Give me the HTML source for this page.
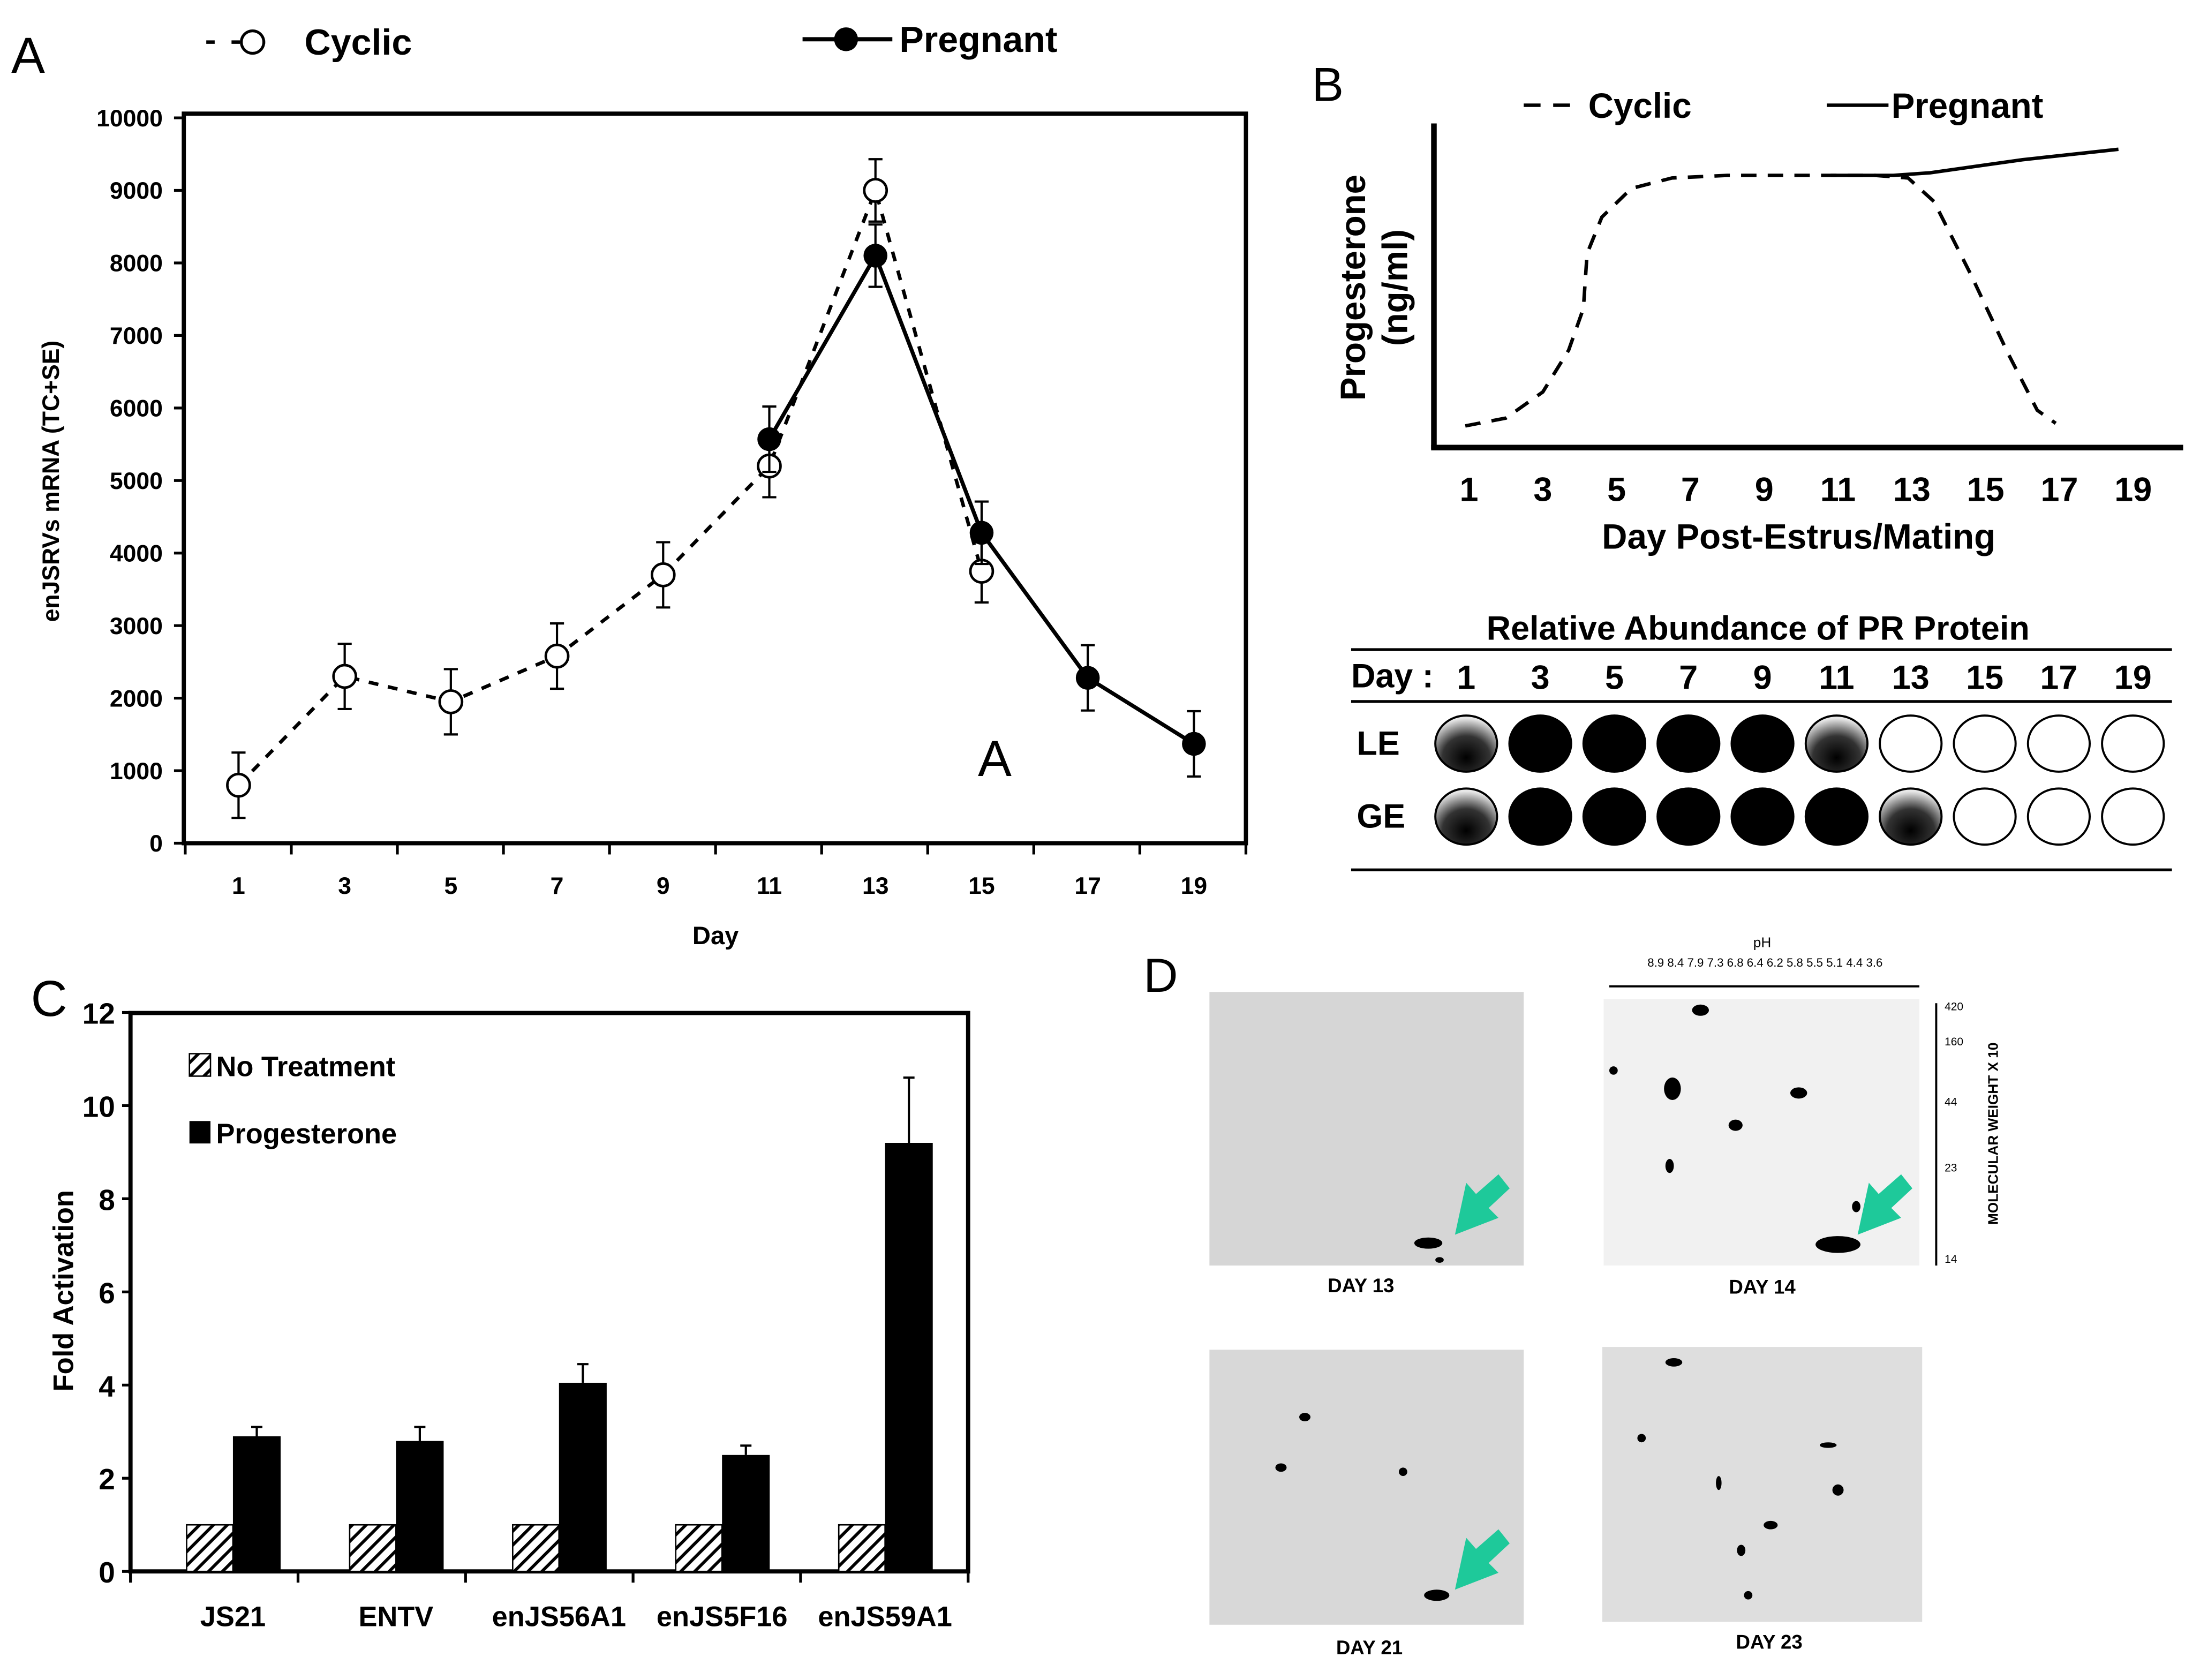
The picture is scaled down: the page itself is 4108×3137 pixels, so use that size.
<!DOCTYPE html>
<html><head><meta charset="utf-8">
<style>
html,body{margin:0;padding:0;background:#fff;}
svg{display:block;}
text{font-family:"Liberation Sans",Arial,sans-serif;}
.b{font-weight:bold;}
</style></head>
<body>
<svg id="fig" width="4108" height="3137" viewBox="0 0 1568 1197.4" xmlns="http://www.w3.org/2000/svg">
<defs>
<pattern id="hatch" patternUnits="userSpaceOnUse" width="7" height="7" patternTransform="rotate(45)">
<rect width="7" height="7" fill="#fff"/><rect width="2.2" height="7" fill="#000"/>
</pattern>
<radialGradient id="grad" cx="0.5" cy="0.75" r="0.7">
<stop offset="0" stop-color="#000"/><stop offset="0.55" stop-color="#333"/><stop offset="1" stop-color="#e8e8e8"/>
</radialGradient>
</defs>

<!-- Panel A -->
<g>
<text x="8" y="52" font-size="36">A</text>
<g>
<line x1="147" y1="30" x2="200" y2="30" stroke="#000" stroke-width="2.5" stroke-dasharray="6,12"/>
<circle cx="180" cy="30" r="8" fill="#fff" stroke="#000" stroke-width="2"/>
<text x="217" y="39" font-size="26" class="b">Cyclic</text>
</g>
<g>
<line x1="572" y1="28" x2="636" y2="28" stroke="#000" stroke-width="3"/>
<circle cx="603" cy="28" r="8.5" fill="#000"/>
<text x="641" y="37" font-size="26" class="b">Pregnant</text>
</g>
<rect x="131" y="81" width="757" height="520" fill="none" stroke="#000" stroke-width="3"/>
<g id="aAxis"></g>
<g id="aMarks"></g>
<text transform="translate(42,343) rotate(-90)" text-anchor="middle" font-size="17" class="b">enJSRVs mRNA (TC+SE)</text>
<text x="510" y="673" text-anchor="middle" font-size="18" class="b">Day</text>
<text x="697" y="553" font-size="36">A</text>
</g>

<!-- Panel B -->
<g>
<text x="935" y="72" font-size="34">B</text>
<g>
<line x1="1086" y1="75" x2="1128" y2="75" stroke="#000" stroke-width="2.5" stroke-dasharray="12,9"/>
<text x="1132" y="84" font-size="25" class="b">Cyclic</text></g>
<g>
<line x1="1302" y1="75" x2="1346" y2="75" stroke="#000" stroke-width="2.5"/>
<text x="1348" y="84" font-size="25" class="b">Pregnant</text></g>
<line x1="1022" y1="88" x2="1022" y2="320" stroke="#000" stroke-width="4"/>
<line x1="1020" y1="319" x2="1556" y2="319" stroke="#000" stroke-width="4"/>
<text transform="translate(973,205) rotate(-90)" text-anchor="middle" font-size="25" class="b">Progesterone</text>
<text transform="translate(1003,205) rotate(-90)" text-anchor="middle" font-size="25" class="b">(ng/ml)</text>
<g id="bAxis"></g>
<g id="bMarks"></g>
<text x="1282" y="391" text-anchor="middle" font-size="25" class="b">Day  Post-Estrus/Mating</text>
<g>
<text x="1253" y="456" text-anchor="middle" font-size="24" class="b">Relative Abundance of PR Protein</text>
<line x1="963" y1="463" x2="1548" y2="463" stroke="#000" stroke-width="2"/>
<line x1="963" y1="500" x2="1548" y2="500" stroke="#000" stroke-width="2"/>
<line x1="963" y1="620" x2="1548" y2="620" stroke="#000" stroke-width="2"/>
<text x="963" y="490" font-size="24" class="b">Day :</text>
<text x="967" y="538" font-size="24" class="b">LE</text>
<text x="967" y="590" font-size="24" class="b">GE</text>
<g id="prTable"></g>
</g>
</g>

<!-- Panel C -->
<g>
<text x="22" y="724" font-size="36">C</text>
<rect x="93" y="722" width="597" height="398" fill="none" stroke="#000" stroke-width="3"/>
<g id="cAxis"></g>
<g id="cMarks"></g>
<text transform="translate(52,920) rotate(-90)" text-anchor="middle" font-size="20" class="b">Fold Activation</text>
<g>
<rect x="135" y="751" width="15" height="16" fill="url(#hatch)" stroke="#000" stroke-width="1"/>
<text x="154" y="767" font-size="20" class="b">No Treatment</text></g>
<g>
<rect x="135" y="799" width="15" height="16" fill="#000"/>
<text x="154" y="815" font-size="20" class="b">Progesterone</text></g>
</g>

<!-- Panel D -->
<g>
<text x="815" y="707" font-size="34">D</text>
<rect x="862" y="707" width="224" height="195" fill="#d6d6d6"/>
<rect x="1143" y="712" width="225" height="190" fill="#f1f1f1"/>
<rect x="862" y="962" width="224" height="196" fill="#d8d8d8"/>
<rect x="1142" y="960" width="228" height="196" fill="#dedede"/>
<g fill="#000">
<ellipse cx="1018" cy="886" rx="10" ry="4"/><ellipse cx="1026" cy="898" rx="3" ry="2"/>
<ellipse cx="1212" cy="720" rx="6" ry="4"/><ellipse cx="1192" cy="776" rx="6" ry="8"/><ellipse cx="1282" cy="779" rx="6" ry="4"/>
<ellipse cx="1237" cy="802" rx="5" ry="4"/><ellipse cx="1190" cy="831" rx="3" ry="5"/><ellipse cx="1310" cy="887" rx="16" ry="6"/>
<ellipse cx="1323" cy="860" rx="3" ry="4"/><ellipse cx="1150" cy="763" rx="3" ry="3"/>
<ellipse cx="1024" cy="1137" rx="9" ry="4"/><ellipse cx="930" cy="1010" rx="4" ry="3"/><ellipse cx="913" cy="1046" rx="4" ry="3"/><ellipse cx="1000" cy="1049" rx="3" ry="3"/>
<ellipse cx="1193" cy="971" rx="6" ry="3"/><ellipse cx="1170" cy="1025" rx="3" ry="3"/><ellipse cx="1310" cy="1062" rx="4" ry="4"/>
<ellipse cx="1262" cy="1087" rx="5" ry="3"/><ellipse cx="1241" cy="1105" rx="3" ry="4"/><ellipse cx="1246" cy="1137" rx="3" ry="3"/>
<ellipse cx="1303" cy="1030" rx="6" ry="2"/><ellipse cx="1225" cy="1057" rx="2" ry="5"/>
</g>
<g fill="#1ec99a">
<polygon points="1037,880 1045,843 1052,851 1068,837 1076,847 1061,861 1068,868"/>
<polygon points="1324,880 1332,843 1339,851 1355,837 1363,847 1348,861 1355,868"/>
<polygon points="1037,1133 1045,1096 1052,1104 1068,1090 1076,1100 1061,1114 1068,1121"/>
</g>
<g>
<text x="1256" y="675" text-anchor="middle" font-size="10">pH</text>
<text x="1258" y="689" text-anchor="middle" font-size="8.5">8.9 8.4 7.9 7.3 6.8 6.4 6.2 5.8 5.5 5.1 4.4 3.6</text>
<line x1="1147" y1="703" x2="1368" y2="703" stroke="#000" stroke-width="1.5"/>
</g>
<g>
<line x1="1380" y1="715" x2="1380" y2="902" stroke="#000" stroke-width="1.5"/>
<text x="1386" y="720" font-size="8">420</text><text x="1386" y="745" font-size="8">160</text><text x="1386" y="788" font-size="8">44</text><text x="1386" y="835" font-size="8">23</text><text x="1386" y="900" font-size="8">14</text>
<text transform="translate(1424,808) rotate(-90)" text-anchor="middle" font-size="10" class="b">MOLECULAR WEIGHT X 10</text>
</g>
<text x="970" y="921" text-anchor="middle" font-size="14" class="b">DAY 13</text>
<text x="1256" y="922" text-anchor="middle" font-size="14" class="b">DAY 14</text>
<text x="976" y="1179" text-anchor="middle" font-size="14" class="b">DAY 21</text>
<text x="1261" y="1175" text-anchor="middle" font-size="14" class="b">DAY 23</text>
</g>
</svg>

<script>
// Panel A data
const aDays = [1,3,5,7,9,11,13,15,17,19];
const cyclicDays = [1,3,5,7,9,11,13,15];
const cyclicVals = [800,2300,1950,2580,3700,5200,9000,3750];
const cyclicErr = [450,450,450,450,450,430,430,430];
const pregDays = [11,13,15,17,19];
const pregVals = [5570,8100,4280,2280,1370];
const pregErr = [450,430,430,450,450];
const aYTicks = [0,1000,2000,3000,4000,5000,6000,7000,8000,9000,10000];
// Panel B data
const bDayTicks = [1,3,5,7,9,11,13,15,17,19];
const bCycDays = [0.9,2,3,3.7,4.1,4.2,4.6,5.4,6.5,8,10,12,12.9,13.6,14.6,15.6,16.4,16.9];
const bCycVals = [0.04,0.07,0.17,0.33,0.49,0.7,0.84,0.95,0.99,1.0,1.0,1.0,0.99,0.9,0.62,0.32,0.1,0.05];
const bPregDays = [10.8,12.5,13.5,16,18.6];
const bPregVals = [1.0,1.0,1.01,1.06,1.1];
// PR table data: 0 none, 1 partial, 2 full
const prDays = [1,3,5,7,9,11,13,15,17,19];
const prLE = [1,2,2,2,2,1,0,0,0,0];
const prGE = [1,2,2,2,2,2,1,0,0,0];
// Panel C data
const cCats = ["JS21","ENTV","enJS56A1","enJS5F16","enJS59A1"];
const cNoTreat = [1,1,1,1,1];
const cProg = [2.9,2.8,4.05,2.5,9.2];
const cProgErr = [0.2,0.3,0.4,0.2,1.4];
const cYTicks = [0,2,4,6,8,10,12];

const NS="http://www.w3.org/2000/svg";
function mk(tag,attrs,parent,txt){const e=document.createElementNS(NS,tag);for(const k in attrs)e.setAttribute(k,attrs[k]);if(txt!==undefined)e.textContent=txt;parent.appendChild(e);return e;}

// ---- Panel A
const ax=d=>170+(d-1)*37.83, ay=v=>601-v*0.0517;
const aAxis=document.getElementById('aAxis'), aM=document.getElementById('aMarks');
aYTicks.forEach(t=>{
  mk('line',{x1:124,x2:131,y1:ay(t),y2:ay(t),stroke:'#000','stroke-width':2},aAxis);
  const tl=mk('text',{x:116,y:ay(t)+6,'text-anchor':'end','font-size':17,'font-weight':'bold'},aAxis,t);
  
  
});
for(let i=0;i<=10;i++){const x=132+i*75.6;mk('line',{x1:x,x2:x,y1:601,y2:609,stroke:'#000','stroke-width':2},aAxis);}
aDays.forEach(d=>{
  const tl=mk('text',{x:ax(d),y:637,'text-anchor':'middle','font-size':17,'font-weight':'bold'},aAxis,d);
  
  
});
function errbar(x,v,e,g){mk('line',{x1:x,x2:x,y1:ay(v+e),y2:ay(v-e),stroke:'#000','stroke-width':1.6},g);
  [v+e,v-e].forEach(w=>mk('line',{x1:x-5,x2:x+5,y1:ay(w),y2:ay(w),stroke:'#000','stroke-width':1.6},g));}
const cyc=mk('polyline',{points:cyclicDays.map((d,i)=>ax(d)+','+ay(cyclicVals[i])).join(' '),fill:'none',stroke:'#000','stroke-width':2.5,'stroke-dasharray':'7,7'},aM);


const prg=mk('polyline',{points:pregDays.map((d,i)=>ax(d)+','+ay(pregVals[i])).join(' '),fill:'none',stroke:'#000','stroke-width':2.8},aM);


cyclicDays.forEach((d,i)=>{errbar(ax(d),cyclicVals[i],cyclicErr[i],aM);
  const c=mk('circle',{cx:ax(d),cy:ay(cyclicVals[i]),r:8,fill:'#fff',stroke:'#000','stroke-width':1.8},aM);
  
  });
pregDays.forEach((d,i)=>{errbar(ax(d),pregVals[i],pregErr[i],aM);
  const c=mk('circle',{cx:ax(d),cy:ay(pregVals[i]),r:8.5,fill:'#000'},aM);
  
  });

// ---- Panel B
const bx=d=>1047+(d-1)*26.3, by=v=>311-v*186;
const bAxis=document.getElementById('bAxis'), bM=document.getElementById('bMarks');
bDayTicks.forEach(d=>{
  const tl=mk('text',{x:bx(d),y:357,'text-anchor':'middle','font-size':24,'font-weight':'bold'},bAxis,d);
  
  
});
const bc=mk('polyline',{points:bCycDays.map((d,i)=>bx(d)+','+by(bCycVals[i])).join(' '),fill:'none',stroke:'#000','stroke-width':2.5,'stroke-dasharray':'11,8'},bM);


const bp=mk('polyline',{points:bPregDays.map((d,i)=>bx(d)+','+by(bPregVals[i])).join(' '),fill:'none',stroke:'#000','stroke-width':2.5},bM);



// PR table
const pr=document.getElementById('prTable');
const prX=d=>1045+(d-1)*26.4;
prDays.forEach((d,i)=>{
  const tl=mk('text',{x:prX(d),y:491,'text-anchor':'middle','font-size':24,'font-weight':'bold'},pr,d);
  
  
  [[prLE[i],530],[prGE[i],582]].forEach(([s,y])=>{
    const fill=s===2?'#000':(s===1?'url(#grad)':'#fff');
    const c=mk('ellipse',{cx:prX(d),cy:y,rx:22,ry:20,fill:fill,stroke:'#000','stroke-width':1.5},pr);
    
    
  });
});

// ---- Panel C
const cy=v=>1120-v*33.2, cx0=i=>166+i*116.2;
const cAxis=document.getElementById('cAxis'), cM=document.getElementById('cMarks');
cYTicks.forEach(t=>{
  mk('line',{x1:87,x2:93,y1:cy(t),y2:cy(t),stroke:'#000','stroke-width':2},cAxis);
  const tl=mk('text',{x:82,y:cy(t)+8,'text-anchor':'end','font-size':21,'font-weight':'bold'},cAxis,t);
  
  
});
for(let i=0;i<=5;i++){const x=93+i*119.4;mk('line',{x1:x,x2:x,y1:1120,y2:1128,stroke:'#000','stroke-width':2},cAxis);}
cCats.forEach((c,i)=>{
  const tl=mk('text',{x:cx0(i),y:1159,'text-anchor':'middle','font-size':20,'font-weight':'bold'},cAxis,c);
  
  
  const h=mk('rect',{x:cx0(i)-33,y:cy(cNoTreat[i]),width:33,height:cy(0)-cy(cNoTreat[i]),fill:'url(#hatch)',stroke:'#000','stroke-width':1},cM);
  
  
  const b=mk('rect',{x:cx0(i),y:cy(cProg[i]),width:34,height:cy(0)-cy(cProg[i]),fill:'#000'},cM);
  
  
  const ex=cx0(i)+17;
  mk('line',{x1:ex,x2:ex,y1:cy(cProg[i]),y2:cy(cProg[i]+cProgErr[i]),stroke:'#000','stroke-width':1.6},cM);
  mk('line',{x1:ex-4,x2:ex+4,y1:cy(cProg[i]+cProgErr[i]),y2:cy(cProg[i]+cProgErr[i]),stroke:'#000','stroke-width':1.6},cM);
});
</script>
</body></html>
